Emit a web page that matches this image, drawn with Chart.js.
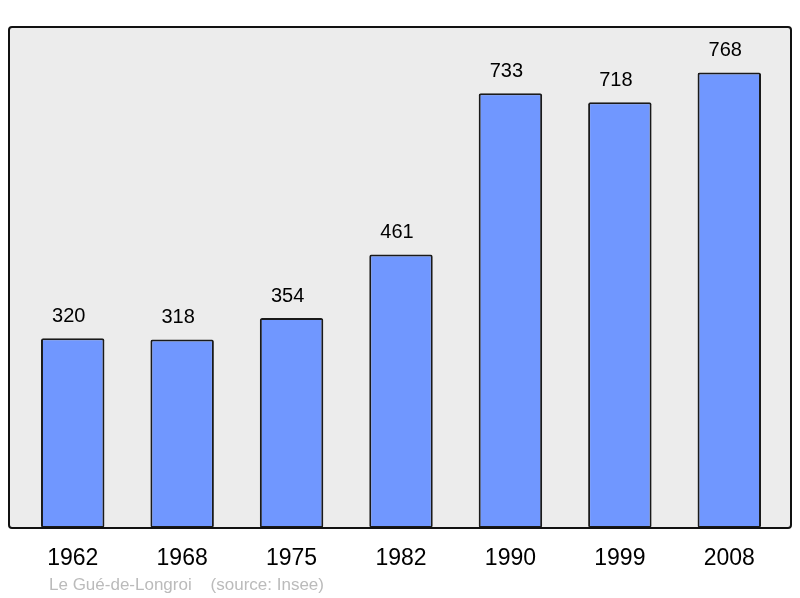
<!DOCTYPE html>
<html>
<head>
<meta charset="utf-8">
<script src="https://cdn.jsdelivr.net/npm/chart.js@4"></script>
<style>
  html, body { margin: 0; padding: 0; background: #fff; }
  #wrap { width: 800px; height: 598px; }
</style>
</head>
<body>
<div id="wrap"><canvas id="grafico" width="800" height="598"></canvas></div>
<script>
// Datos
const annees = ['1962', '1968', '1975', '1982', '1990', '1999', '2008'];
const population = [320, 318, 354, 461, 733, 718, 768];
const pied = 'Le Gué-de-Longroi    (source: Insee)';

// Cadre gris derrière les barres
const cadre = {
  id: 'cadre',
  beforeDatasetsDraw(chart) {
    const ctx = chart.ctx;
    ctx.save();
    ctx.beginPath();
    ctx.roundRect(9, 27, 782, 501, 3);
    ctx.fillStyle = '#ececec';
    ctx.fill();
    ctx.restore();
  },
  afterDatasetsDraw(chart) {
    const ctx = chart.ctx;
    ctx.save();
    ctx.beginPath();
    ctx.roundRect(9, 27, 782, 501, 3);
    ctx.lineWidth = 2;
    ctx.strokeStyle = '#111';
    ctx.stroke();

    // valeurs au-dessus des barres
    const meta = chart.getDatasetMeta(0);
    ctx.fillStyle = '#000';
    ctx.font = '20px "Liberation Sans", Arial, sans-serif';
    ctx.textAlign = 'center';
    ctx.textBaseline = 'middle';
    meta.data.forEach((bar, i) => {
      ctx.fillText(population[i], bar.x - 4, bar.y - 22);
    });

    // source
    ctx.fillStyle = '#bbbbbb';
    ctx.font = '17px "Liberation Sans", Arial, sans-serif';
    ctx.textAlign = 'left';
    ctx.fillText(pied, 49, 585);
    ctx.restore();
  }
};

new Chart(document.getElementById('grafico'), {
  type: 'bar',
  data: {
    labels: annees,
    datasets: [{
      data: population,
      backgroundColor: '#7097ff',
      borderColor: '#1a1a1a',
      borderWidth: 2,
      borderRadius: 2,
      borderSkipped: false,
      barPercentage: 0.58,
      categoryPercentage: 1
    }]
  },
  options: {
    responsive: false,
    animation: false,
    layout: { padding: { left: 18, right: 16, top: 27, bottom: 0 } },
    plugins: { legend: { display: false }, tooltip: { enabled: false } },
    scales: {
      x: {
        grid: { display: false, drawTicks: false },
        border: { display: false },
        ticks: {
          color: '#000',
          padding: 17,
          font: { family: '"Liberation Sans", Arial, sans-serif', size: 23 }
        },
        afterFit(scale) { scale.height = 70; }
      },
      y: { display: false, min: 0, max: 844.8 }
    }
  },
  plugins: [cadre]
});
</script>
</body>
</html>
